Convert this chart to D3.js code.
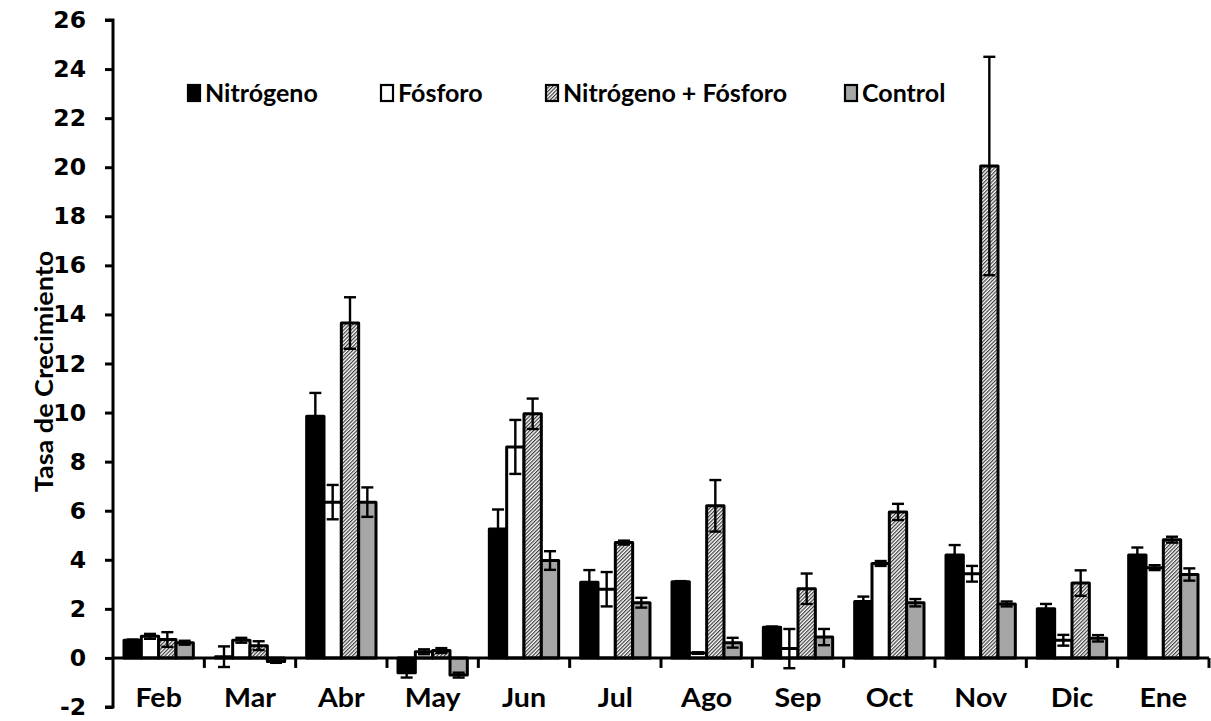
<!DOCTYPE html>
<html>
<head>
<meta charset="utf-8">
<script src="https://cdn.jsdelivr.net/npm/d3@7"></script>
<style>
  html, body { margin: 0; padding: 0; background: #fff; }
  svg { display: block; }
</style>
</head>
<body>
<svg id="chart" width="1211" height="721"></svg>
<script>
// Monthly growth rate by nutrient treatment (means with error bars)
const months = ["Feb", "Mar", "Abr", "May", "Jun", "Jul", "Ago", "Sep", "Oct", "Nov", "Dic", "Ene"];
const seriesNames = ["Nitrógeno", "Fósforo", "Nitrógeno + Fósforo", "Control"];

const nitrogeno    = [0.72, 0.05, 9.85, -0.6, 5.25, 3.08, 3.1, 1.25, 2.3, 4.2, 2.0, 4.2];
const nitrogenoErr = [0.03, 0.42, 0.95, 0.2, 0.8, 0.5, 0.03, 0.03, 0.2, 0.4, 0.2, 0.3];
const fosforo      = [0.88, 0.72, 6.35, 0.25, 8.6, 2.8, 0.2, 0.38, 3.85, 3.43, 0.72, 3.68];
const fosforoErr   = [0.1, 0.1, 0.7, 0.1, 1.1, 0.7, 0.03, 0.8, 0.1, 0.32, 0.22, 0.1];
const nitFos       = [0.75, 0.5, 13.65, 0.3, 9.95, 4.7, 6.2, 2.82, 5.95, 20.05, 3.05, 4.82];
const nitFosErr    = [0.3, 0.18, 1.05, 0.1, 0.62, 0.08, 1.05, 0.62, 0.33, 4.45, 0.52, 0.12];
const control      = [0.62, -0.15, 6.35, -0.7, 3.97, 2.25, 0.62, 0.85, 2.25, 2.2, 0.8, 3.4];
const controlErr   = [0.08, 0.05, 0.6, 0.1, 0.38, 0.2, 0.2, 0.33, 0.15, 0.1, 0.13, 0.25];

const yTicks = d3.range(-2, 27, 2);

const seriesValues = [nitrogeno, fosforo, nitFos, control];
const seriesErrors = [nitrogenoErr, fosforoErr, nitFosErr, controlErr];
const fills = ["#000000", "#ffffff", "url(#hatch)", "#a6a6a6"];

const svg = d3.select("#chart");
const plotLeft = 113, plotRight = 1209, plotTop = 20, plotBottom = 707;
const labelFont = "Lato, 'Open Sans', sans-serif";

// fine diagonal hatch used for the combined treatment
const defs = svg.append("defs");
defs.append("pattern")
  .attr("id", "hatch")
  .attr("patternUnits", "userSpaceOnUse")
  .attr("width", 2.6).attr("height", 2.6)
  .attr("patternTransform", "rotate(45)")
  .call(p => {
    p.append("rect").attr("width", 2.6).attr("height", 2.6).attr("fill", "#ffffff");
    p.append("rect").attr("width", 1.2).attr("height", 2.6).attr("fill", "#3c3c3c");
  });

const y = d3.scaleLinear().domain([-2, 26]).range([plotBottom, plotTop]);
const x0 = d3.scaleBand().domain(months).range([plotLeft, plotRight]).padding(0);
const x1 = d3.scaleBand().domain(seriesNames)
  .range([11, x0.bandwidth() - 11]).padding(0);

// bars
const rows = [];
seriesNames.forEach((s, si) => {
  months.forEach((m, mi) => {
    rows.push({ series: s, si, month: m, value: seriesValues[si][mi], err: seriesErrors[si][mi] });
  });
});

svg.append("g").selectAll("rect")
  .data(rows)
  .join("rect")
  .attr("x", d => x0(d.month) + x1(d.series))
  .attr("width", x1.bandwidth())
  .attr("y", d => y(Math.max(0, d.value)))
  .attr("height", d => Math.abs(y(d.value) - y(0)))
  .attr("fill", d => fills[d.si])
  .attr("stroke", "#000")
  .attr("stroke-width", 3)
  .attr("stroke-linejoin", "round");

// error bars
const capHalf = 6;
const errG = svg.append("g")
  .attr("stroke", "#000")
  .attr("stroke-width", 2.4)
  .attr("fill", "none");
rows.forEach(d => {
  const cx = x0(d.month) + x1(d.series) + x1.bandwidth() / 2;
  const hi = y(d.value + d.err), lo = y(d.value - d.err);
  errG.append("line").attr("x1", cx).attr("x2", cx).attr("y1", hi).attr("y2", lo);
  errG.append("line").attr("x1", cx - capHalf).attr("x2", cx + capHalf).attr("y1", hi).attr("y2", hi);
  errG.append("line").attr("x1", cx - capHalf).attr("x2", cx + capHalf).attr("y1", lo).attr("y2", lo);
});

// y axis
const yAxis = d3.axisLeft(y).tickValues(yTicks).tickSize(8).tickPadding(19)
  .tickFormat(d => String(d));
const yG = svg.append("g")
  .attr("transform", `translate(${plotLeft},0)`)
  .call(yAxis);
yG.select(".domain").attr("stroke", "#000").attr("stroke-width", 3)
  .attr("d", `M-8,${plotTop}H0V${plotBottom}H-8`);
yG.selectAll(".tick line").attr("stroke", "#000").attr("stroke-width", 3);
yG.selectAll(".tick text")
  .attr("font-family", "'DejaVu Sans', Verdana, sans-serif")
  .attr("font-weight", "bold")
  .attr("font-size", 23.5)
  .attr("fill", "#000");

// x axis along zero, ticks at category boundaries
const boundaries = months.map(m => x0(m)).slice(1).concat([plotRight]);
const xG = svg.append("g");
xG.append("line")
  .attr("x1", plotLeft).attr("x2", plotRight)
  .attr("y1", y(0)).attr("y2", y(0))
  .attr("stroke", "#000").attr("stroke-width", 3);
xG.selectAll("line.tk")
  .data(boundaries)
  .join("line")
  .attr("class", "tk")
  .attr("x1", d => d).attr("x2", d => d)
  .attr("y1", y(0)).attr("y2", y(0) + 10)
  .attr("stroke", "#000").attr("stroke-width", 3);

// month labels below the plot
svg.append("g").selectAll("text")
  .data(months)
  .join("text")
  .attr("transform", d => `translate(${x0(d) + x0.bandwidth() / 2},707) scale(1.1,1)`)
  .attr("text-anchor", "middle")
  .attr("font-family", labelFont)
  .attr("font-weight", "bold")
  .attr("font-size", 26)
  .attr("fill", "#000")
  .text(d => d);

// y axis title
svg.append("text")
  .attr("transform", `translate(53,${(y(26) + y(-2)) / 2 + 8}) rotate(-90) scale(1.08,1)`)
  .attr("text-anchor", "middle")
  .attr("font-family", labelFont)
  .attr("font-weight", "bold")
  .attr("font-size", 25)
  .attr("fill", "#000")
  .text("Tasa de Crecimiento");

// legend
const legendX = [188, 381, 546, 845];
const legend = svg.append("g");
seriesNames.forEach((s, i) => {
  const g = legend.append("g").attr("transform", `translate(${legendX[i]},85)`);
  g.append("rect")
    .attr("x", 0).attr("y", 0).attr("width", 12).attr("height", 16)
    .attr("fill", fills[i]).attr("stroke", "#000").attr("stroke-width", 2.2);
  g.append("text")
    .attr("x", 17).attr("y", 17)
    .attr("font-family", labelFont)
    .attr("font-weight", "bold")
    .attr("font-size", 25)
    .attr("fill", "#000")
    .text(s);
});
</script>
</body>
</html>
